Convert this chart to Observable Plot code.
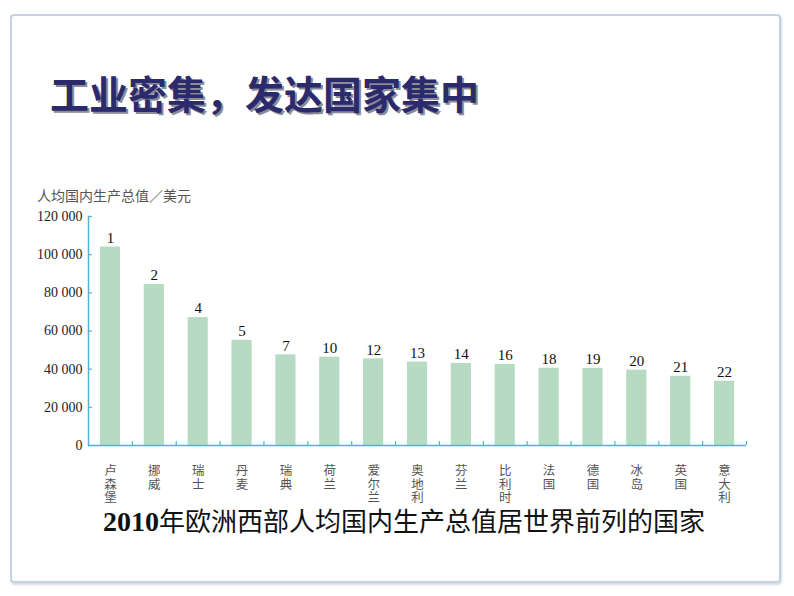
<!DOCTYPE html>
<html><head><meta charset="utf-8">
<script src="https://cdn.jsdelivr.net/npm/d3@7"></script>
<script src="https://cdn.jsdelivr.net/npm/@observablehq/plot@0.6"></script>
<style>
html,body{margin:0;padding:0;background:#fff;}
#page{position:relative;width:794px;height:596px;overflow:hidden;background:#fff;}
#border{position:absolute;left:10px;top:14px;width:767px;height:565px;border:2px solid #c3d1e2;border-radius:4px;box-shadow:1px 2px 2px #d6dde6;}
#title{position:absolute;left:50px;top:70px;font-family:"Noto Sans CJK SC";font-weight:700;font-size:39px;line-height:44px;color:#2b2a6c;text-shadow:2px 2px 0 #8c8c98;white-space:nowrap;}
#ytitle{position:absolute;left:37px;top:186px;font-family:"Noto Sans CJK SC";font-size:14px;line-height:18px;color:#555;white-space:nowrap;}
#chart{position:absolute;left:0;top:0;}
#caption{position:absolute;left:103px;top:507px;font-family:"Noto Sans CJK SC";font-size:26px;line-height:26px;color:#111;white-space:nowrap;}
#caption b{font-family:"Liberation Serif";font-weight:bold;font-size:28px;}
</style></head>
<body>
<div id="page">
  <div id="border"></div>
  <div id="title">工业密集，发达国家集中</div>
  <div id="ytitle">人均国内生产总值／美元</div>
  <div id="chart"></div>
  <div id="caption"><b>2010</b>年欧洲西部人均国内生产总值居世界前列的国家</div>
</div>
<script>
const countries = ["卢森堡","挪威","瑞士","丹麦","瑞典","荷兰","爱尔兰","奥地利","芬兰","比利时","法国","德国","冰岛","英国","意大利"];
const gdp = [104000,84400,67000,55100,47500,46300,45400,43700,43000,42400,40500,40400,39500,36300,33700];
const ranks = [1,2,4,5,7,10,12,13,14,16,18,19,20,21,22];
const yTicks = [0,20000,40000,60000,80000,100000,120000];

const data = countries.map((name,i)=>({name, value: gdp[i], rank: ranks[i]}));
const axisColor = "#4fb2d8";
const W = 794, H = 560, mL = 88, mR = 48, mT = 216, mB = 115;
const step = (W - mL - mR) / countries.length;

const chart = Plot.plot({
  width: W, height: H,
  marginLeft: mL, marginRight: mR, marginTop: mT, marginBottom: mB,
  style: {background: "transparent", overflow: "visible"},
  x: {type: "band", domain: countries, paddingInner: 0.54, paddingOuter: 0.27, round: false, axis: null},
  y: {domain: [0, 120000], axis: null},
  marks: [
    Plot.barY(data, {x: "name", y: "value", fill: "#b7dbc2"}),
    Plot.axisY({ticks: yTicks, tickSize: 4, dx: 4, tickFormat: () => "", stroke: axisColor, strokeWidth: 1.2, label: null}),
    Plot.axisY({ticks: yTicks, tickSize: 0, tickPadding: 6, tickFormat: d => d3.format(",")(d).replace(/,/g, " "), fontFamily: "Liberation Serif", fontSize: 14, fill: "#222", label: null}),
    Plot.axisX({tickSize: 4, dx: step / 2, dy: -4, tickFormat: () => "", stroke: axisColor, strokeWidth: 1.2, label: null}),
    Plot.frame({anchor: "left", stroke: axisColor, strokeWidth: 1.5}),
    Plot.ruleY([0], {stroke: axisColor, strokeWidth: 1.5}),
    Plot.text(data, {x: "name", y: "value", text: d => String(d.rank), dy: -9, fontFamily: "Liberation Serif", fontSize: 15, fill: "#111"}),
    Plot.text(data, {x: "name", frameAnchor: "bottom", text: d => d.name.split("").join("\n"), lineAnchor: "top", dy: 20, lineHeight: 1.08, fontFamily: "Noto Sans CJK SC", fontSize: 12.5, fill: "#555"})
  ]
});
document.getElementById("chart").appendChild(chart);
</script>
</body></html>
